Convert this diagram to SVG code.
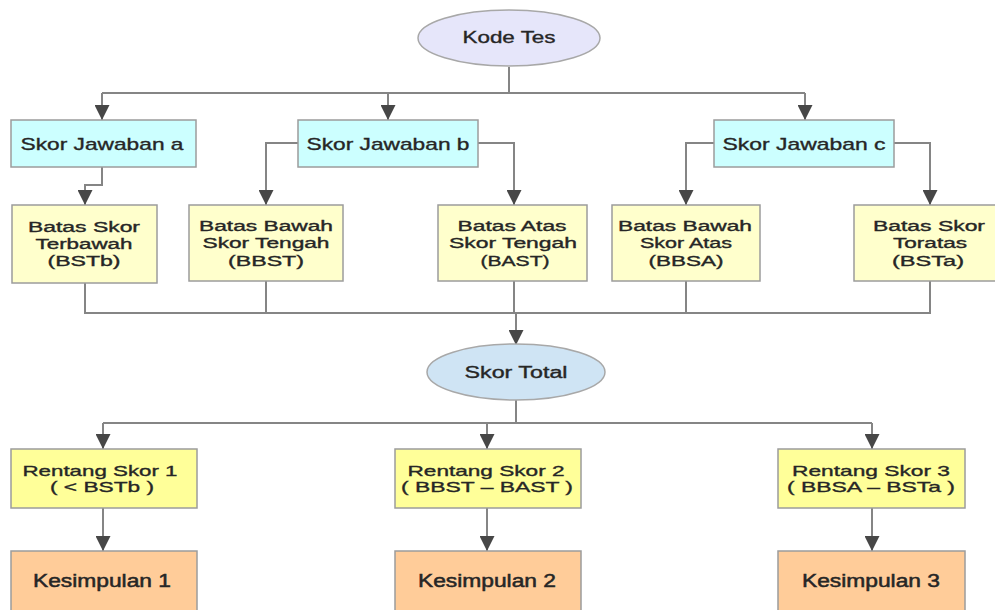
<svg xmlns="http://www.w3.org/2000/svg" width="995" height="610" viewBox="0 0 995 610">
  <defs>
    <marker id="arrow" viewBox="0 0 10 10" refX="10" refY="5" markerWidth="7.5" markerHeight="7.5" markerUnits="strokeWidth" orient="auto">
      <path d="M0,0 L10,5 L0,10 Z" fill="#474747"/>
    </marker>
  </defs>
  <style>
    .box { stroke: #9c9c9c; stroke-width: 1.5; }
    .ell { stroke: #a8a8a8; stroke-width: 1.5; }
    .cyan { fill: #ccffff; }
    .pale { fill: #ffffcc; }
    .yel { fill: #ffff99; }
    .peach { fill: #ffcc99; }
    .lav { fill: #e6e6fa; }
    .sky { fill: #cfe4f4; }
    text { font-family: "Liberation Sans", Arial, sans-serif; fill: #262626; stroke: #262626; stroke-width: 0.35; text-anchor: middle; }
    .t16 { font-size: 16px; }
    .t17 { font-size: 17px; }
    .t14 { font-size: 14px; }
    .t15 { font-size: 15px; }
    .t18 { font-size: 18px; stroke-width: 0.5; }
    #connectors path { fill: none; stroke: #858585; stroke-width: 2; }
    #connectors path.arr { marker-end: url(#arrow); }
  </style>
  <rect width="995" height="610" fill="#ffffff"/>

  <g id="connectors">
    <!-- Kode Tes to answer scores -->
    <path d="M509,67 V93"/>
    <path d="M102,93 H805"/>
    <path class="arr" d="M102,93 V120"/>
    <path class="arr" d="M388,93 V120"/>
    <path class="arr" d="M805,93 V120"/>
    <!-- answer scores to limits -->
    <path class="arr" d="M102,167 V185 H85 V205"/>
    <path class="arr" d="M298,143 H266 V205"/>
    <path class="arr" d="M478,143 H514 V205"/>
    <path class="arr" d="M714,143 H686 V205"/>
    <path class="arr" d="M894,143 H930 V205"/>
    <!-- limits collected into total score -->
    <path d="M85,283 V313 H930 V281"/>
    <path d="M266,281 V313"/>
    <path d="M514,281 V313"/>
    <path d="M686,281 V313"/>
    <path class="arr" d="M516,313 V345"/>
    <!-- total score to ranges -->
    <path d="M516,400 V423"/>
    <path d="M103,423 H872"/>
    <path class="arr" d="M103,423 V449"/>
    <path class="arr" d="M487,423 V449"/>
    <path class="arr" d="M872,423 V449"/>
    <!-- ranges to conclusions -->
    <path class="arr" d="M103,508 V551"/>
    <path class="arr" d="M487,508 V551"/>
    <path class="arr" d="M872,508 V551"/>
  </g>

  <g id="kode-tes">
    <ellipse class="ell lav" cx="509" cy="38" rx="91" ry="28"/>
    <text class="t16" x="509" y="43" textLength="93" lengthAdjust="spacingAndGlyphs">Kode Tes</text>
  </g>

  <g id="skor-a">
    <rect class="box cyan" x="11" y="120" width="185" height="47"/>
    <text class="t17" x="102" y="150" textLength="163" lengthAdjust="spacingAndGlyphs">Skor Jawaban a</text>
  </g>
  <g id="skor-b">
    <rect class="box cyan" x="298" y="120" width="180" height="47"/>
    <text class="t17" x="388" y="150" textLength="163" lengthAdjust="spacingAndGlyphs">Skor Jawaban b</text>
  </g>
  <g id="skor-c">
    <rect class="box cyan" x="714" y="120" width="180" height="47"/>
    <text class="t17" x="804" y="150" textLength="163" lengthAdjust="spacingAndGlyphs">Skor Jawaban c</text>
  </g>

  <g id="bstb">
    <rect class="box pale" x="12" y="205" width="145" height="78"/>
    <text class="t14" x="84" y="232" textLength="112" lengthAdjust="spacingAndGlyphs">Batas Skor</text>
    <text class="t14" x="84" y="249" textLength="97" lengthAdjust="spacingAndGlyphs">Terbawah</text>
    <text class="t14" x="84" y="266" textLength="73" lengthAdjust="spacingAndGlyphs">(BSTb)</text>
  </g>
  <g id="bbst">
    <rect class="box pale" x="189" y="205" width="154" height="76"/>
    <text class="t14" x="266" y="231" textLength="134" lengthAdjust="spacingAndGlyphs">Batas Bawah</text>
    <text class="t14" x="266" y="248" textLength="127" lengthAdjust="spacingAndGlyphs">Skor Tengah</text>
    <text class="t14" x="266" y="266" textLength="76" lengthAdjust="spacingAndGlyphs">(BBST)</text>
  </g>
  <g id="bast">
    <rect class="box pale" x="438" y="205" width="149" height="76"/>
    <text class="t14" x="512" y="231" textLength="109" lengthAdjust="spacingAndGlyphs">Batas Atas</text>
    <text class="t14" x="513" y="248" textLength="128" lengthAdjust="spacingAndGlyphs">Skor Tengah</text>
    <text class="t14" x="515" y="266" textLength="69" lengthAdjust="spacingAndGlyphs">(BAST)</text>
  </g>
  <g id="bbsa">
    <rect class="box pale" x="612" y="205" width="148" height="76"/>
    <text class="t14" x="685" y="231" textLength="134" lengthAdjust="spacingAndGlyphs">Batas Bawah</text>
    <text class="t14" x="686" y="248" textLength="92" lengthAdjust="spacingAndGlyphs">Skor Atas</text>
    <text class="t14" x="686" y="266" textLength="75" lengthAdjust="spacingAndGlyphs">(BBSA)</text>
  </g>
  <g id="bsta">
    <rect class="box pale" x="854" y="205" width="152" height="76"/>
    <text class="t14" x="929" y="231" textLength="112" lengthAdjust="spacingAndGlyphs">Batas Skor</text>
    <text class="t14" x="930" y="248" textLength="74" lengthAdjust="spacingAndGlyphs">Toratas</text>
    <text class="t14" x="928" y="266" textLength="72" lengthAdjust="spacingAndGlyphs">(BSTa)</text>
  </g>

  <g id="skor-total">
    <ellipse class="ell sky" cx="516" cy="372" rx="89" ry="28"/>
    <text class="t16" x="516" y="378" textLength="103" lengthAdjust="spacingAndGlyphs">Skor Total</text>
  </g>

  <g id="rentang-1">
    <rect class="box yel" x="11" y="449" width="186" height="59"/>
    <text class="t15" x="100" y="476" textLength="155" lengthAdjust="spacingAndGlyphs">Rentang Skor 1</text>
    <text class="t15" x="102" y="492" textLength="104" lengthAdjust="spacingAndGlyphs">( &lt; BSTb )</text>
  </g>
  <g id="rentang-2">
    <rect class="box yel" x="395" y="449" width="186" height="59"/>
    <text class="t15" x="486" y="476" textLength="157" lengthAdjust="spacingAndGlyphs">Rentang Skor 2</text>
    <text class="t15" x="487" y="492" textLength="172" lengthAdjust="spacingAndGlyphs">( BBST – BAST )</text>
  </g>
  <g id="rentang-3">
    <rect class="box yel" x="778" y="449" width="187" height="59"/>
    <text class="t15" x="871" y="476" textLength="158" lengthAdjust="spacingAndGlyphs">Rentang Skor 3</text>
    <text class="t15" x="871" y="492" textLength="168" lengthAdjust="spacingAndGlyphs">( BBSA – BSTa )</text>
  </g>

  <g id="kesimpulan-1">
    <rect class="box peach" x="11" y="551" width="186" height="70"/>
    <text class="t18" x="102" y="587" textLength="138" lengthAdjust="spacingAndGlyphs">Kesimpulan 1</text>
  </g>
  <g id="kesimpulan-2">
    <rect class="box peach" x="395" y="551" width="186" height="70"/>
    <text class="t18" x="487" y="587" textLength="138" lengthAdjust="spacingAndGlyphs">Kesimpulan 2</text>
  </g>
  <g id="kesimpulan-3">
    <rect class="box peach" x="778" y="551" width="187" height="70"/>
    <text class="t18" x="871" y="587" textLength="138" lengthAdjust="spacingAndGlyphs">Kesimpulan 3</text>
  </g>
</svg>
